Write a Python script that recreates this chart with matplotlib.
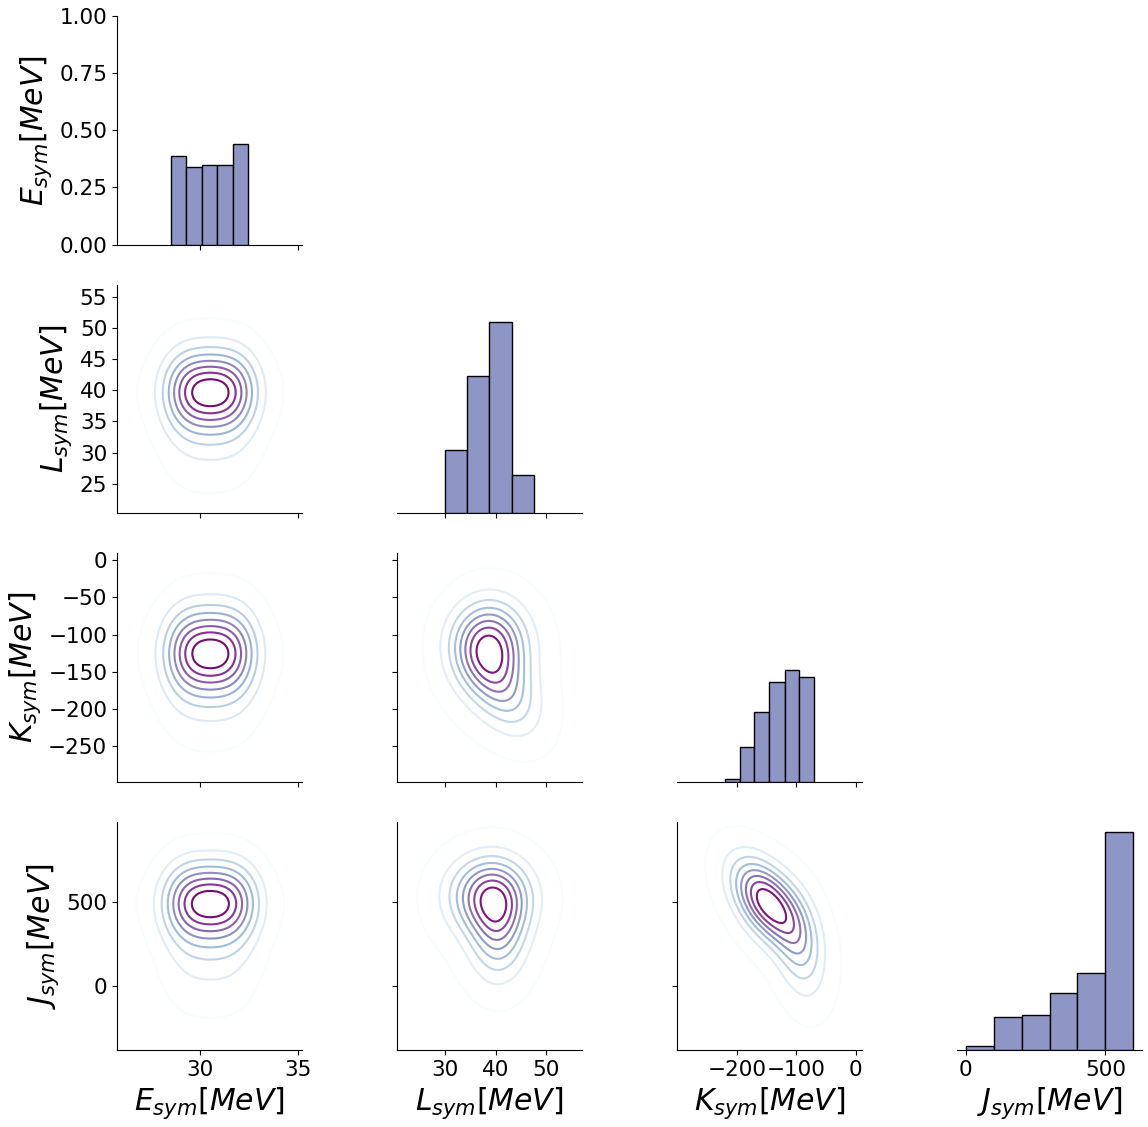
"""
Corner plot of symmetry-energy parameters: KDE contours + histograms
"""
import numpy as np
import matplotlib.pyplot as plt

plt.rcParams['font.size'] = 15.5
plt.rcParams['axes.labelsize'] = 21.5
plt.rcParams['figure.dpi'] = 100

labels = [r'$E_{sym}[MeV]$', r'$L_{sym}[MeV]$', r'$K_{sym}[MeV]$', r'$J_{sym}[MeV]$']

# diagonal histograms (bin edges and counts)
esym_edges = [28.5, 29.29, 30.08, 30.87, 31.66, 32.45]
esym_counts = [20.4, 17.9, 18.2, 18.2, 23.0]
lsym_edges = [30.0, 34.4, 38.8, 43.2, 47.6]
lsym_counts = [14.5, 31.5, 43.9, 8.7]
ksym_edges = [-221, -196, -171, -146, -120, -95, -70]
ksym_counts = [0.55, 7.9, 15.9, 22.8, 25.6, 24.0]
jsym_edges = [0, 100, 200, 300, 400, 500, 600]
jsym_counts = [1.0, 7.7, 8.0, 13.2, 17.8, 50.0]

# 1D density mixtures (weights, means, sds) for the uncorrelated panels
# Esym is close to flat over its prior range, so several narrow pieces + a wide one
esym_mix = ([0.176, 0.176, 0.176, 0.176, 0.176, 0.12],
            [29.0, 29.76, 30.52, 31.28, 32.04, 30.52],
            [0.85, 0.85, 0.85, 0.85, 0.85, 2.6])
lsym_mix = ([0.7, 0.3], [40.1, 35.8], [4.4, 6.4])
ksym_mix = ([0.7, 0.3], [-122, -150], [40, 55])
jsym_mix = ([0.7, 0.3], [505, 280], [155, 245])

# 2D mixtures for correlated panels: weight, mean x, mean y, sd x, sd y, corr
lk_comps = [(0.55, 38.8, -113, 4.8, 38, 0.0),
            (0.30, 41.0, -170, 5.0, 42, -0.45),
            (0.15, 40.5, -140, 8.5, 70, 0.0)]
lj_comps = [(0.55, 38.8, 540, 5.3, 150, 0.0),
            (0.35, 40.5, 330, 3.8, 195, 0.0),
            (0.10, 39.0, 420, 10.5, 300, 0.0)]
kj_comps = [(0.65, -150, 500, 38, 165, -0.5),
            (0.25, -95, 240, 28, 210, -0.3),
            (0.10, -130, 380, 80, 340, -0.5)]

xlims = [(25.75, 35.2), (20.4, 57.2), (-302, 11), (-31, 631)]
ylims = [(0, 1), (20.3, 57.0), (-297, 9.4), (-379, 978)]


def product_comps(mx, my):
    return [(wa * wb, ma, mb, sa, sb, 0.0)
            for wa, ma, sa in zip(*mx) for wb, mb, sb in zip(*my)]


def mixture_density(comps, xx, yy):
    z = np.zeros_like(xx)
    for w, mx, my, sx, sy, r in comps:
        dx = (xx - mx) / sx
        dy = (yy - my) / sy
        q = (dx**2 - 2 * r * dx * dy + dy**2) / (1 - r**2)
        z += w * np.exp(-0.5 * q) / (2 * np.pi * sx * sy * np.sqrt(1 - r**2))
    return z


def iso_levels(z, props):
    vals = np.sort(z.ravel())[::-1]
    cum = np.cumsum(vals) / vals.sum()
    idx = np.searchsorted(cum, 1 - np.asarray(props))
    return np.take(vals, idx, mode='clip')


panels = {
    (1, 0): product_comps(esym_mix, lsym_mix),
    (2, 0): product_comps(esym_mix, ksym_mix),
    (3, 0): product_comps(esym_mix, jsym_mix),
    (2, 1): lk_comps,
    (3, 1): lj_comps,
    (3, 2): kj_comps,
}
hists = [(esym_edges, esym_counts), (lsym_edges, lsym_counts),
         (ksym_edges, ksym_counts), (jsym_edges, jsym_counts)]

fig, axes = plt.subplots(4, 4, figsize=(11.48, 11.27), sharex='col', sharey='row')
fig.subplots_adjust(left=0.1019, right=0.9948, top=0.9858, bottom=0.0683,
                    wspace=0.5135, hspace=0.175)

for i in range(4):
    for j in range(4):
        if j > i:
            axes[i, j].remove()

hmax = max(max(c) for _, c in hists) * 1.05
props = np.linspace(0.05, 1, 9)

for (i, j), comps in panels.items():
    ax = axes[i, j]
    # density evaluated on a padded grid so the outer contour is not clipped
    x0, x1 = xlims[j]
    y0, y1 = ylims[i]
    gx = np.linspace(x0 - (x1 - x0), x1 + (x1 - x0), 600)
    gy = np.linspace(y0 - (y1 - y0), y1 + (y1 - y0), 600)
    xx, yy = np.meshgrid(gx, gy)
    z = mixture_density(comps, xx, yy)
    lv = iso_levels(z, props)
    ax.contour(xx, yy, z, levels=np.unique(lv), cmap='BuPu', linewidths=1.5)

for k, (edges, counts) in enumerate(hists):
    ax = axes[k, k]
    tw = ax.twinx()
    tw.bar(edges[:-1], counts, width=np.diff(edges), align='edge',
           color='#8e96c6', edgecolor='black', linewidth=1)
    tw.set_ylim(0, hmax)
    tw.set_axis_off()
    if k > 0:
        ax.yaxis.set_visible(False)
        ax.spines['left'].set_visible(False)

for ax in fig.axes:
    ax.spines['top'].set_visible(False)
    ax.spines['right'].set_visible(False)

for k in range(4):
    axes[k, 0].set_ylabel(labels[k])
    axes[3, k].set_xlabel(labels[k])

axes[0, 0].set_yticks([0, 0.25, 0.5, 0.75, 1.0])
axes[1, 0].set_yticks([25, 30, 35, 40, 45, 50, 55])
axes[2, 0].set_yticks([-250, -200, -150, -100, -50, 0])
axes[3, 0].set_yticks([0, 500])
axes[3, 0].set_xticks([30, 35])
axes[3, 1].set_xticks([30, 40, 50])
axes[3, 2].set_xticks([-200, -100, 0])
axes[3, 3].set_xticks([0, 500])
for j in range(4):
    axes[3, j].set_xlim(xlims[j])
for i in range(4):
    axes[i, 0].set_ylim(ylims[i])

plt.savefig('out.png')
